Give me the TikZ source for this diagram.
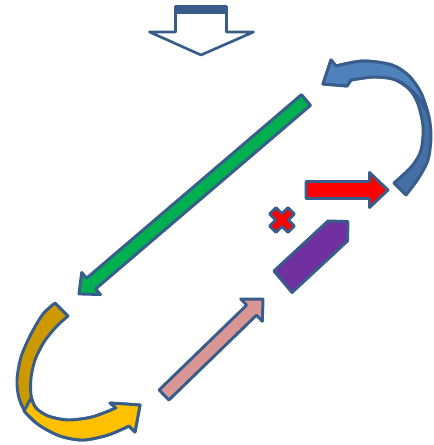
\documentclass[tikz,border=0pt]{standalone}
\definecolor{outl}{HTML}{385D8A}
\definecolor{grn}{HTML}{00B050}
\definecolor{pnk}{HTML}{D99694}
\definecolor{purp}{HTML}{7030A0}
\definecolor{gold}{HTML}{CC9900}
\definecolor{yel}{HTML}{FFC000}
\definecolor{bluel}{HTML}{4F81BD}
\definecolor{blued}{HTML}{4470A5}
\newcommand\blockarrow[7]{%
  \draw[#1, shift={(#2)}, rotate=#3] (0,-#5) -- ({#4-#7},-#5) -- ({#4-#7},-#6) -- (#4,0) -- ({#4-#7},#6) -- ({#4-#7},#5) -- (0,#5) -- cycle;}
\begin{document}
\begin{tikzpicture}[x=0.75pt,y=-0.75pt, line join=round,
  shp/.style={draw=outl, line width=2.2pt}]
\useasboundingbox (0,0) rectangle (433,445);

% top hollow down arrow
\fill[outl] (175.5,6.5) rectangle (226.5,14);
\draw[shp, line width=2pt, fill=white] (175.5,6.5) -- (226.5,6.5) -- (226.5,32) -- (253.5,32) -- (201,55) -- (149.5,32) -- (175.5,32) -- cycle;
\fill[outl] (175.5,6.5) rectangle (226.5,14);

% green arrow
\blockarrow{shp, fill=grn}{306,100}{220.5}{298.6}{7}{14.5}{16}
% pink arrow
\blockarrow{shp, fill=pnk}{164,395}{44.1}{137.9}{7}{15.5}{16}
% red arrow
\blockarrow{shp, fill=red}{306,190}{0}{82}{8.5}{17.5}{18.5}

% purple home plate
\draw[shp, fill=purp] (274,271) -- (328,221) -- (348,221.5) -- (347.5,241) -- (292,292.5) -- cycle;

% red cross
\begin{scope}[shift={(282,220)}, rotate=45]
\def\w{4.5}\def\h{13}
\draw[shp, fill=red] (-\w,-\h) -- (\w,-\h) -- (\w,-\w) -- (\h,-\w) -- (\h,\w) -- (\w,\w) -- (\w,\h) -- (-\w,\h) -- (-\w,\w) -- (-\h,\w) -- (-\h,-\w) -- (-\w,-\w) -- cycle;
\end{scope}

% blue curved arrow
\draw[shp, fill=blued] (323,84) -- (331,60) -- (336,66) -- plot[smooth] coordinates {(336,66) (363,61) (392,65) (409,76) (421,93) (429,117) (431,137) (428,160) (418,179) (406,195)}
  -- plot[smooth] coordinates {(394,183) (412,166) (421,150) (423,127) (418,104) (409,89) (393,79) (373,77) (351,80)} -- (347,86) -- cycle;
\draw[shp, fill=bluel] (323,84) -- (331,60) -- (336,66) -- plot[smooth] coordinates {(336,66) (363,61) (392,65) (409,76) (421,93) (428,113)}
  -- plot[smooth] coordinates {(428,113) (417,96) (405,85) (393,79) (373,77) (351,80)} -- (347,86) -- cycle;

% yellow curved arrow
\draw[shp, fill=gold] (55,303) -- plot[smooth] coordinates {(55,303) (43,314) (31,334) (21,357) (17,380) (19,398) (26,413) (39,425) (60,436) (83,440) (108,435) (129,426)}
  -- (135,432) -- (140,405) -- (110,403)
  -- plot[smooth] coordinates {(116,408) (92,417) (68,420) (48,416) (36,408) (31,395) (31,378) (35,360) (44,342) (56,327) (68,316)} -- cycle;
\draw[shp, fill=yel] (24,411) -- plot[smooth] coordinates {(24,411) (39,425) (60,436) (83,440) (108,435) (129,426)}
  -- (135,432) -- (140,405) -- (110,403)
  -- plot[smooth] coordinates {(116,408) (92,417) (68,420) (48,416) (36,408) (31,398)} -- cycle;
\end{tikzpicture}
\end{document}
